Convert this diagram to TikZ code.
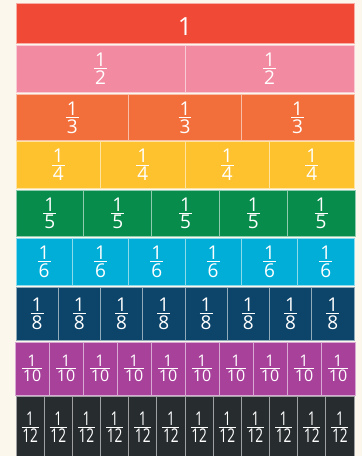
\documentclass[tikz,border=0pt]{standalone}
\usepackage{fontspec}
\setmainfont{Open Sans}
\usepackage{graphicx}
\usetikzlibrary{positioning}

\definecolor{bgcream}{HTML}{FCF7EC}
\definecolor{wholered}{HTML}{F04A37}
\definecolor{halfpink}{HTML}{F28BA2}
\definecolor{thirdorange}{HTML}{F26F3C}
\definecolor{quarteryellow}{HTML}{FEC22F}
\definecolor{fifthgreen}{HTML}{078C4B}
\definecolor{sixthcyan}{HTML}{00AED8}
\definecolor{eighthblue}{HTML}{0D4469}
\definecolor{tenthpurple}{HTML}{A8419A}
\definecolor{twelfthgray}{HTML}{272C2F}

% stacked fraction with a bar as wide as the widest part
\newcommand{\fr}[2]{\vbox{\halign{\hfil\kern1pt##\kern1pt\hfil\cr#1\cr\noalign{\kern1.6pt\hrule height 0.9pt\kern1.6pt}#2\cr}}}

\begin{document}
\begin{tikzpicture}[
    x=1pt, y=-1pt,
    % Node styles
    cell/.style={
        rectangle, inner sep=0pt, outer sep=0pt,
        fill=#1, draw=#1!45!white, line width=0.9pt,
        text=white,
    },
    whole/.style={
        cell=wholered,
        font=\fontsize{25}{25}\selectfont, text height=25pt,
    },
    piece/.style={
        cell=#1,
        font=\fontsize{19}{21}\selectfont,
    },
    small piece/.style={
        cell=#1,
        font=\fontsize{16}{18}\selectfont,
    },
]

\useasboundingbox (0,0) rectangle (362,456);
\fill[bgcream] (0,0) rectangle (362,456);

% === Row 1: the whole ===
\node[whole, minimum width=338pt, minimum height=40pt] (whole) at (185,23.25) {1};

% === Row 2: halves ===
\foreach \i in {1,...,2}
    \node[piece=halfpink, minimum width=338pt/2, minimum height=47pt]
        (half-\i) at ({16+338/2*(\i-0.5)},68.5) {\fr{1}{2}};

% === Row 3: thirds ===
\foreach \i in {1,...,3}
    \node[piece=thirdorange, minimum width=338pt/3, minimum height=46.5pt]
        (third-\i) at ({16+338/3*(\i-0.5)},117.5) {\fr{1}{3}};

% === Row 4: quarters ===
\foreach \i in {1,...,4}
    \node[piece=quarteryellow, minimum width=338pt/4, minimum height=47pt]
        (quarter-\i) at ({16+338/4*(\i-0.5)},165) {\fr{1}{4}};

% === Row 5: fifths ===
\foreach \i in {1,...,5}
    \node[piece=fifthgreen, minimum width=339pt/5, minimum height=46.5pt]
        (fifth-\i) at ({16+339/5*(\i-0.5)},213.25) {\fr{1}{5}};

% === Row 6: sixths ===
\foreach \i in {1,...,6}
    \node[piece=sixthcyan, minimum width=338pt/6, minimum height=47pt]
        (sixth-\i) at ({16+338/6*(\i-0.5)},261.5) {\fr{1}{6}};

% === Row 7: eighths ===
\foreach \i in {1,...,8}
    \node[piece=eighthblue, minimum width=338pt/8, minimum height=53.5pt]
        (eighth-\i) at ({16+338/8*(\i-0.5)},313.75) {\fr{1}{8}};

% === Row 8: tenths ===
\foreach \i in {1,...,10}
    \node[small piece=tenthpurple, minimum width=340pt/10, minimum height=53pt]
        (tenth-\i) at ({15+340/10*(\i-0.5)},368.5) {\fr{1}{10}};

% === Row 9: twelfths (cut off by the bottom edge) ===
\foreach \i in {1,...,12}
    \node[piece=twelfthgray, minimum width=338pt/12, minimum height=61.5pt]
        (twelfth-\i) at ({16+338/12*(\i-0.5)},427.25) {\scalebox{0.72}[1]{\fr{1}{12}}};

\end{tikzpicture}
\end{document}
